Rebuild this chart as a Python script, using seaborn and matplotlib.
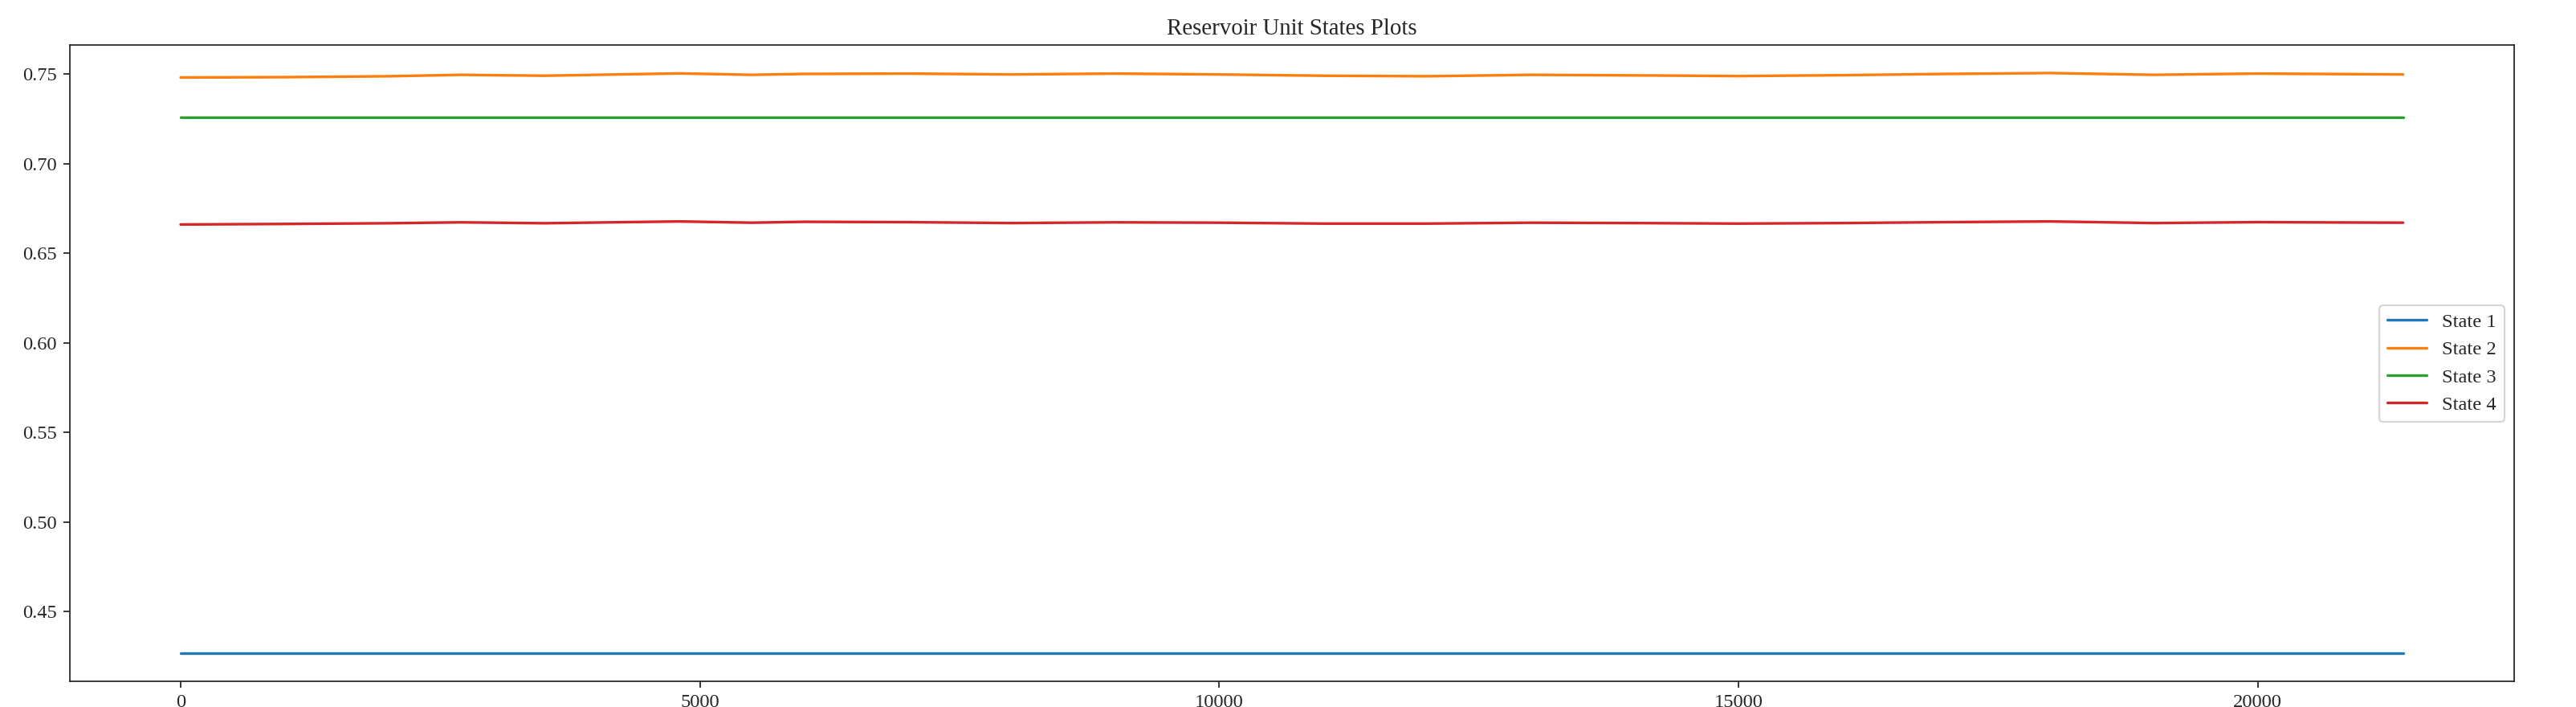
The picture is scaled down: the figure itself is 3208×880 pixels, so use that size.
import pandas as pd
import matplotlib
matplotlib.use("Agg")
import matplotlib.pyplot as plt
import seaborn as sns

steps = [0, 1000, 2000, 2700, 3500, 4800, 5500, 6000, 7000, 8000, 9000, 10000,
         11000, 12000, 13000, 14000, 15000, 16000, 17000, 18000, 19000, 20000, 21400]
state1 = [0.427] * len(steps)
state2 = [0.7480, 0.7482, 0.7487, 0.7495, 0.7490, 0.7503, 0.7495, 0.7500, 0.7502, 0.7497,
          0.7502, 0.7497, 0.7490, 0.7487, 0.7495, 0.7492, 0.7488, 0.7493, 0.7500, 0.7505,
          0.7495, 0.7502, 0.7497]
state3 = [0.726] * len(steps)
state4 = [0.6660, 0.6663, 0.6667, 0.6672, 0.6667, 0.6677, 0.6670, 0.6675, 0.6673, 0.6668,
          0.6672, 0.6670, 0.6665, 0.6665, 0.6670, 0.6668, 0.6665, 0.6668, 0.6673, 0.6677,
          0.6668, 0.6673, 0.6670]

df = pd.DataFrame({"step": steps, "State 1": state1, "State 2": state2,
                   "State 3": state3, "State 4": state4})
long = df.melt(id_vars="step", var_name="state", value_name="value")

sns.set_style("ticks")
plt.rcParams['font.family'] = ['Liberation Serif', 'DejaVu Serif']

fig, ax = plt.subplots(figsize=(20.05, 5.5), dpi=160)
sns.lineplot(data=long, x="step", y="value", hue="state", ax=ax,
             palette=sns.color_palette("tab10", 4), linewidth=1.5)
ax.set_xlim(-1070, 22470)
ax.set_ylim(0.411, 0.766)
ax.set_xticks([0, 5000, 10000, 15000, 20000])
ax.set_yticks([0.45, 0.50, 0.55, 0.60, 0.65, 0.70, 0.75])
ax.tick_params(labelsize=11)
ax.set_xlabel("")
ax.set_ylabel("")
ax.set_title("Reservoir Unit States Plots", fontsize=13)
ax.legend(loc="center right", fontsize=11, title=None)
fig.subplots_adjust(left=0.027, right=0.976, top=0.936, bottom=0.036)
fig.savefig("out.png")
